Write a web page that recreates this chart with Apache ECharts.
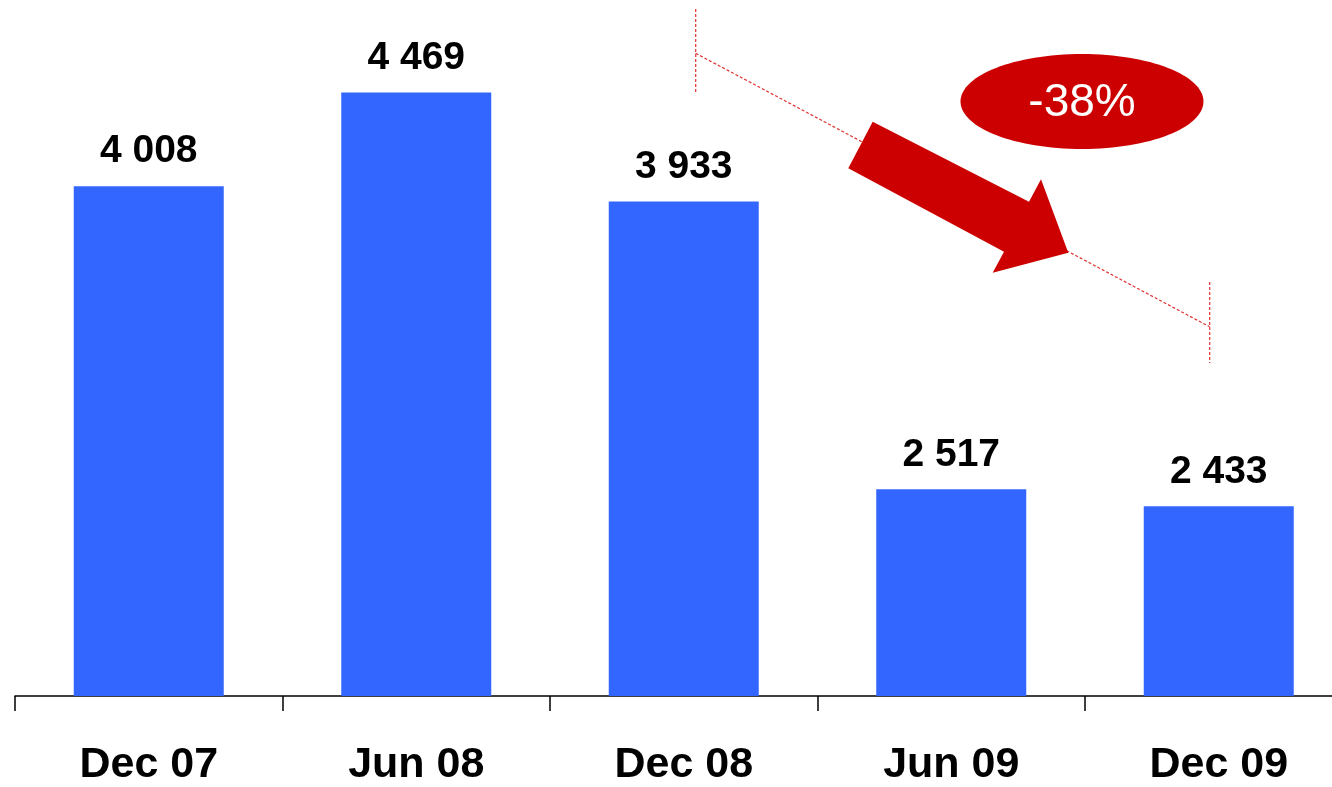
<!DOCTYPE html>
<html>
<head>
<meta charset="utf-8">
<script src="https://cdn.jsdelivr.net/npm/echarts@6/dist/echarts.min.js"></script>
<style>
html,body{margin:0;padding:0;background:#fff;overflow:hidden;width:1332px;height:787px;}
#chart{width:1353px;height:787px;}
</style>
</head>
<body>
<div id="chart"></div>
<script>
const categories = ['Dec 07', 'Jun 08', 'Dec 08', 'Jun 09', 'Dec 09'];
const values = [4008, 4469, 3933, 2517, 2433];
const changeLabel = '-38%';

const chart = echarts.init(document.getElementById('chart'), null, {renderer: 'canvas'});
const FONT = '"Liberation Sans", Arial, Helvetica, sans-serif';
const RED = '#cc0000';
const DASH = '#e03030';

function fmt(v) {
  return String(v).replace(/\B(?=(\d{3})+(?!\d))/g, ' ');
}

chart.setOption({
  animation: false,
  backgroundColor: '#ffffff',
  grid: {left: 15, top: 0, right: 0.5, bottom: 90, containLabel: false},
  xAxis: {
    type: 'category',
    data: categories,
    axisLine: {show: true, lineStyle: {color: '#000', width: 1.5}},
    axisTick: {show: true, length: 15, lineStyle: {color: '#000', width: 1.5}},
    axisLabel: {
      margin: 48,
      color: '#000',
      fontFamily: FONT,
      fontWeight: 'bold',
      fontSize: 43
    },
    splitLine: {show: false}
  },
  yAxis: {
    type: 'value',
    min: 1500,
    max: 4924,
    show: false,
    splitLine: {show: false}
  },
  series: [{
    type: 'bar',
    data: values,
    barWidth: 150,
    itemStyle: {color: '#3366ff'},
    label: {
      show: true,
      position: 'top',
      distance: 15,
      color: '#000',
      fontFamily: FONT,
      fontWeight: 'bold',
      fontSize: 39,
      formatter: p => fmt(p.value)
    }
  }],
  graphic: [
    {type: 'line', shape: {x1: 695.7, y1: 9, x2: 695.7, y2: 92},
     style: {stroke: DASH, lineWidth: 1.2, lineDash: [3, 2]}},
    {type: 'line', shape: {x1: 695.7, y1: 53.3, x2: 1209.5, y2: 326.7},
     style: {stroke: DASH, lineWidth: 1.2, lineDash: [3, 2]}},
    {type: 'line', shape: {x1: 1209.7, y1: 282, x2: 1209.7, y2: 363},
     style: {stroke: DASH, lineWidth: 1.2, lineDash: [3, 2]}},
    {type: 'polygon',
     shape: {points: [[872.7, 121.7], [1029, 201.7], [1041, 179.3], [1068.3, 252.7], [992.7, 272.7], [1004, 251.7], [848.3, 168.3]]},
     style: {fill: RED}},
    {type: 'ellipse', shape: {cx: 1082, cy: 101.5, rx: 121.5, ry: 47.5},
     style: {fill: RED}},
    {type: 'text', x: 1082, y: 103.5,
     style: {text: changeLabel, fill: '#fff', font: '46px ' + FONT, align: 'center', verticalAlign: 'middle'}}
  ]
});
</script>
</body>
</html>
